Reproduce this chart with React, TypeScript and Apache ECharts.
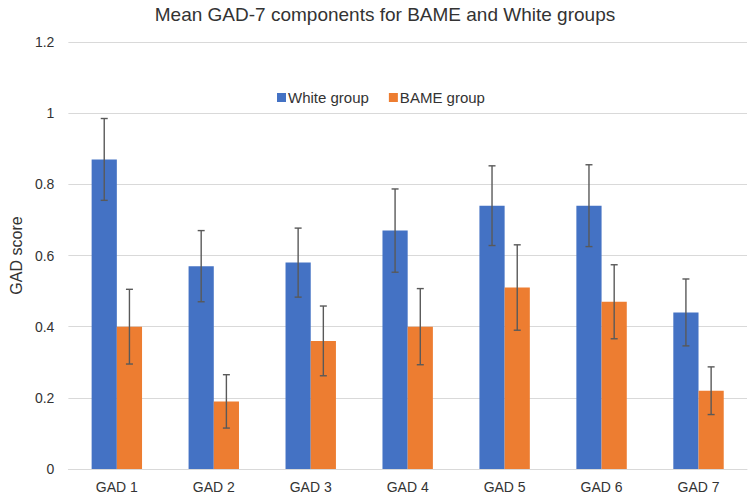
import React, { useEffect, useRef } from "react";
import * as echarts from "echarts";

const categories = ["GAD 1", "GAD 2", "GAD 3", "GAD 4", "GAD 5", "GAD 6", "GAD 7"];
const whiteValues = [0.87, 0.57, 0.58, 0.67, 0.74, 0.74, 0.44];
const bameValues = [0.4, 0.19, 0.36, 0.4, 0.51, 0.47, 0.22];
const whiteErr = [0.115, 0.1, 0.097, 0.117, 0.112, 0.115, 0.094];
const bameErr = [0.105, 0.075, 0.098, 0.107, 0.12, 0.104, 0.067];

const BAR_FRAC = 0.26;
const FONT = "'Liberation Sans', Arial, sans-serif";
const TEXT = "#333333";

function errorSeries(name: string, values: number[], errs: number[], side: number) {
  return {
    type: "custom",
    name,
    silent: true,
    z: 10,
    data: values.map((v, i) => [i, v - errs[i], v + errs[i]]),
    encode: { x: 0, y: [1, 2] },
    renderItem: (params: any, api: any) => {
      const idx = api.value(0);
      const band = api.size([1, 0])[0];
      const bw = band * BAR_FRAC;
      const lo = api.coord([idx, api.value(1)]);
      const hi = api.coord([idx, api.value(2)]);
      const x = lo[0] + side * bw / 2;
      const cap = 3.5;
      const style = { stroke: "#595959", lineWidth: 1.4 };
      return {
        type: "group",
        children: [
          { type: "line", shape: { x1: x, y1: hi[1], x2: x, y2: lo[1] }, style },
          { type: "line", shape: { x1: x - cap, y1: hi[1], x2: x + cap, y2: hi[1] }, style },
          { type: "line", shape: { x1: x - cap, y1: lo[1], x2: x + cap, y2: lo[1] }, style },
        ],
      };
    },
    tooltip: { show: false },
  };
}

export default function App() {
  const ref = useRef<HTMLDivElement>(null);
  useEffect(() => {
    if (!ref.current) return;
    const chart = echarts.init(ref.current, null, { renderer: "svg" });
    chart.setOption({
      animation: false,
      backgroundColor: "#ffffff",
      title: {
        text: "Mean GAD-7 components for BAME and White groups",
        left: 380,
        textAlign: "center",
        top: 0,
        textStyle: { fontFamily: FONT, fontSize: 19, fontWeight: "normal", color: TEXT },
      },
      legend: {
        data: ["White group", "BAME group"],
        left: 272,
        top: 85,
        itemWidth: 9,
        itemHeight: 9,
        itemGap: 20,
        icon: "rect",
        textStyle: { fontFamily: FONT, fontSize: 15, color: TEXT, padding: [0, 0, 0, -3] },
      },
      grid: { left: 58, right: 2, top: 42, bottom: 26 },
      xAxis: {
        type: "category",
        data: categories,
        axisTick: { show: false },
        axisLine: { lineStyle: { color: "#d9d9d9", width: 1 } },
        axisLabel: { fontFamily: FONT, fontSize: 14, color: TEXT, margin: 11 },
      },
      yAxis: {
        type: "value",
        min: 0,
        max: 1.2,
        interval: 0.2,
        name: "GAD score",
        nameLocation: "middle",
        nameGap: 41,
        nameTextStyle: { fontFamily: FONT, fontSize: 16, color: TEXT },
        axisLine: { show: false },
        axisTick: { show: false },
        splitLine: { lineStyle: { color: "#d9d9d9", width: 1 } },
        axisLabel: { fontFamily: FONT, fontSize: 14, color: TEXT, margin: 14 },
      },
      series: [
        {
          type: "bar",
          name: "White group",
          data: whiteValues,
          barWidth: (BAR_FRAC * 100).toFixed(1) + "%",
          barGap: "0%",
          itemStyle: { color: "#4472C4" },
        },
        {
          type: "bar",
          name: "BAME group",
          data: bameValues,
          barWidth: (BAR_FRAC * 100).toFixed(1) + "%",
          barGap: "0%",
          itemStyle: { color: "#ED7D31" },
        },
        errorSeries("White err", whiteValues, whiteErr, -1),
        errorSeries("BAME err", bameValues, bameErr, 1),
      ],
    });
    return () => chart.dispose();
  }, []);
  return <div ref={ref} style={{ width: 749, height: 495, position: "absolute", left: 0, top: 0 }} />;
}
